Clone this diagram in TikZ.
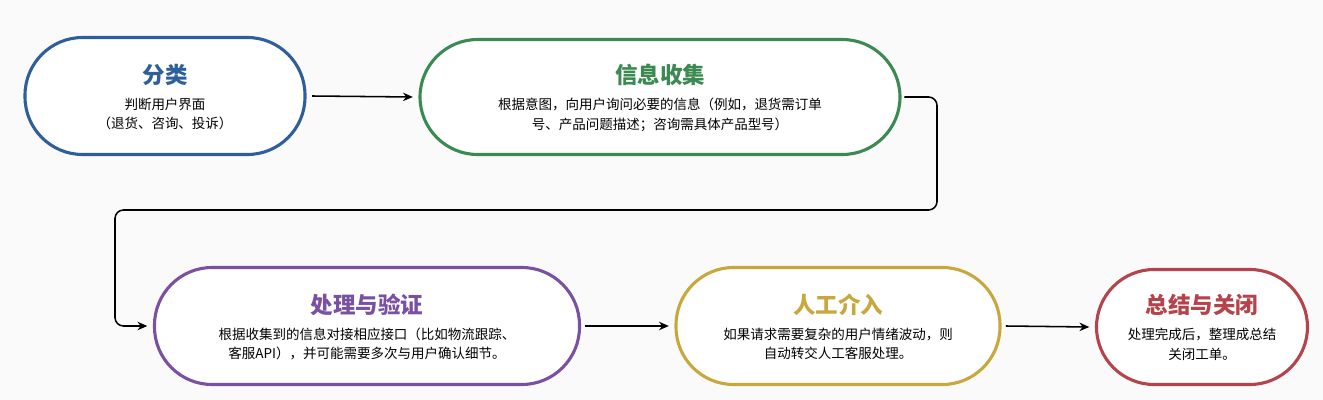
\documentclass[tikz,border=0pt]{standalone}
\usepackage{fontspec}
\setmainfont{Noto Sans CJK SC}
\usetikzlibrary{arrows.meta}
\definecolor{cb}{HTML}{2F5F9B}
\definecolor{cg}{HTML}{3B8A52}
\definecolor{cp}{HTML}{7A50A2}
\definecolor{cy}{HTML}{C8A83C}
\definecolor{cr}{HTML}{B4434B}
\begin{document}
\begin{tikzpicture}[x=0.025cm,y=-0.025cm,
 box/.style={draw=#1,line width=2.2pt,fill=white,rounded corners=41pt,inner sep=0pt,align=center},
 ttl/.style={font=\fontsize{16}{18}\selectfont\bfseries,text=#1},
 bd/.style={font=\fontsize{9.6}{14}\selectfont},
 arr/.style={-{Stealth[length=7pt,width=6pt]},line width=1.1pt,rounded corners=6pt}]
\fill[white!96!gray] (0,0) rectangle (1323,400);
\useasboundingbox (0,0) rectangle (1323,400);
\node[box=cb,minimum width=280*0.025cm,minimum height=117*0.025cm] (a) at (165,96) {};
\node[ttl=cb] at (165,75) {分类};
\node[bd,align=center] at (165,114) {判断用户界面\\（退货、咨询、投诉）};
\node[box=cg,minimum width=480*0.025cm,minimum height=115*0.025cm] (b) at (660,97) {};
\node[ttl=cg] at (660,75) {信息收集};
\node[bd,align=center] at (660,115) {根据意图，向用户询问必要的信息（例如，退货需订单\\号、产品问题描述；咨询需具体产品型号）};
\node[box=cp,minimum width=425*0.025cm,minimum height=117*0.025cm] (c) at (367,326) {};
\node[ttl=cp] at (367,305) {处理与验证};
\node[bd,align=center] at (367,344) {根据收集到的信息对接相应接口（比如物流跟踪、\\客服API），并可能需要多次与用户确认细节。};
\node[box=cy,minimum width=324*0.025cm,minimum height=117*0.025cm] (d) at (838,326) {};
\node[ttl=cy] at (838,305) {人工介入};
\node[bd,align=center] at (838,344) {如果请求需要复杂的用户情绪波动，则\\自动转交人工客服处理。};
\node[box=cr,minimum width=211*0.025cm,minimum height=115*0.025cm] (e) at (1202,327) {};
\node[ttl=cr] at (1202,305) {总结与关闭};
\node[bd,align=center] at (1202,344) {处理完成后，整理成总结\\关闭工单。};
\draw[arr] ([xshift=4pt]a.east) -- ([xshift=-4pt]b.west);
\draw[arr] ([xshift=2pt]b.east) -- (937,97) -- (937,210) -- (115,210) -- (115,326) -- ([xshift=-4pt]c.west);
\draw[arr] ([xshift=3pt]c.east) -- ([xshift=-4pt]d.west);
\draw[arr] ([xshift=3pt]d.east) -- ([xshift=-4pt]e.west);
\end{tikzpicture}
\end{document}
